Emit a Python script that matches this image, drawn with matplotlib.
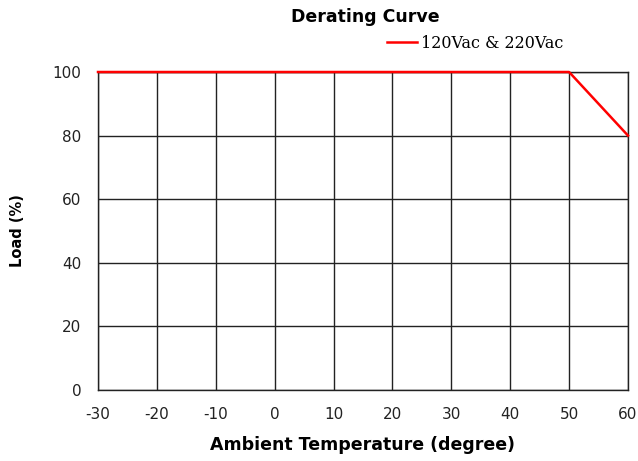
import matplotlib
matplotlib.use("Agg")
import matplotlib.pyplot as plt

# derating data
temp = [-30, 50, 60]
load = [100, 100, 80]
x_ticks = [-30, -20, -10, 0, 10, 20, 30, 40, 50, 60]
y_ticks = [0, 20, 40, 60, 80, 100]

plt.rcParams['font.family'] = ['DejaVu Sans']
plt.rcParams['axes.unicode_minus'] = False

fig = plt.figure(figsize=(6.38, 4.61), dpi=100)
ax = fig.add_axes([98/638, 1-390/461, 530/638, 318/461])

ax.plot(temp, load, color='red', lw=1.8, label='120Vac & 220Vac', zorder=5, clip_on=False)
ax.set_xlim(-30, 60)
ax.set_ylim(0, 100)
ax.set_xticks(x_ticks)
ax.set_yticks(y_ticks)
ax.grid(True, color='#222222', lw=1)
ax.tick_params(length=0, labelsize=11, pad=12, labelcolor='#222222')
for s in ax.spines.values():
    s.set_color('#222222')
    s.set_linewidth(1)

ax.set_xlabel('Ambient Temperature (degree)', fontsize=12.5, fontweight='bold', va='center')
ax.xaxis.set_label_coords(0.5, (390-445)/318)
ax.set_ylabel('Load (%)', fontsize=10.5, fontweight='bold', va='center')
ax.yaxis.set_label_coords((18-98)/530, 0.5)

fig.text(365/638, 1-17/461, 'Derating Curve', ha='center', va='center',
         fontsize=12.5, fontweight='bold')
leg = fig.legend(loc='center left', bbox_to_anchor=(387/638, 1-43/461), frameon=False,
                 prop={'family': 'DejaVu Serif', 'size': 11.5},
                 handlelength=1.9, handletextpad=0.2, borderpad=0, borderaxespad=0)

fig.savefig('out.png', dpi=100)
